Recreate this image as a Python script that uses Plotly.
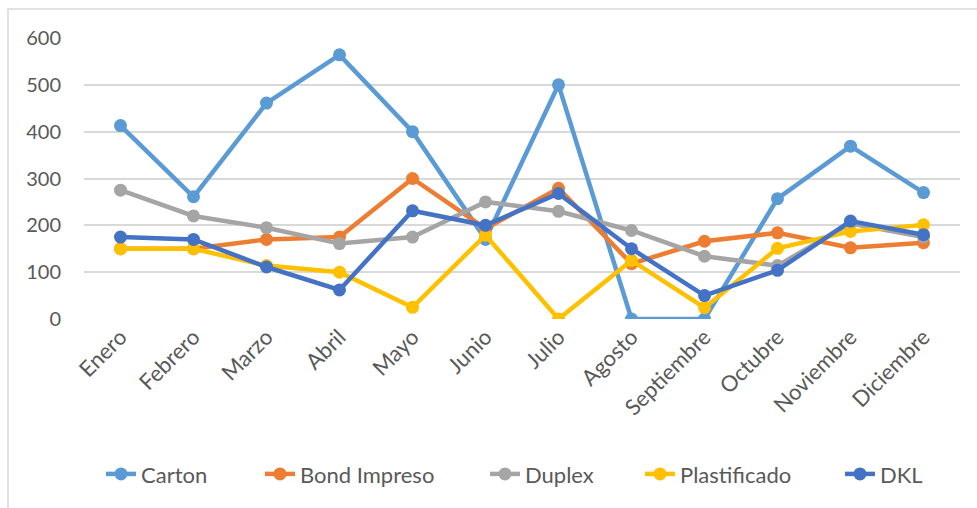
import plotly.graph_objects as go

months = ["Enero", "Febrero", "Marzo", "Abril", "Mayo", "Junio", "Julio",
          "Agosto", "Septiembre", "Octubre", "Noviembre", "Diciembre"]

carton = [413, 261, 461, 564, 400, 170, 500, 0, 0, 257, 369, 270]
bond_impreso = [150, 150, 170, 175, 300, 193, 279, 118, 166, 184, 152, 163]
duplex = [275, 220, 195, 161, 175, 250, 230, 189, 134, 114, 204, 175]
plastificado = [150, 150, 114, 100, 25, 179, 0, 125, 24, 151, 187, 201]
dkl = [175, 170, 111, 62, 231, 200, 268, 150, 50, 104, 209, 180]

series = [
    ("Carton", carton, "#5B9BD5"),
    ("Bond Impreso", bond_impreso, "#ED7D31"),
    ("Duplex", duplex, "#A5A5A5"),
    ("Plastificado", plastificado, "#FFC000"),
    ("DKL", dkl, "#4472C4"),
]

# pixel position of each legend item's text start in the reference
legend_text_px = [146, 305, 530, 685, 885]
PLOT_L, PLOT_W = 84, 876

fig = go.Figure()
legend_layout = {}
for i, ((name, vals, color), tx) in enumerate(zip(series, legend_text_px)):
    key = "legend" if i == 0 else f"legend{i + 1}"
    fig.add_trace(go.Scatter(
        x=months, y=vals, name=name, mode="lines+markers",
        line=dict(color=color, width=4.5),
        marker=dict(color=color, size=13),
        legend=key,
    ))
    legend_layout[key] = dict(
        x=(tx - 45 - PLOT_L) / PLOT_W, xanchor="left",
        y=-0.552, yanchor="middle", orientation="h",
        bgcolor="rgba(0,0,0,0)",
        font=dict(size=22, color="#595959"),
    )

font_family = "Lato, 'Open Sans', sans-serif"
fig.update_layout(
    width=977, height=508,
    margin=dict(l=84, r=17, t=38, b=189),
    paper_bgcolor="white", plot_bgcolor="white",
    font=dict(family=font_family, size=22, color="#595959"),
    showlegend=True,
    xaxis=dict(showgrid=False, showline=False, ticks="", tickangle=-45,
               tickfont=dict(size=22, color="#595959"), range=[-0.5, 11.5]),
    yaxis=dict(range=[0, 600], dtick=100, showgrid=True, gridcolor="#D9D9D9",
               gridwidth=1.5, zeroline=False, showline=False, ticks="",
               tickfont=dict(size=20, color="#595959"), ticklabelstandoff=22),
    shapes=[dict(type="rect", xref="paper", yref="paper",
                 x0=(8 - 84) / 876, x1=1.2, y0=-1.0, y1=(319 - 9) / 281,
                 line=dict(color="#D9D9D9", width=1.5), fillcolor="rgba(0,0,0,0)")],
    **legend_layout,
)

fig.write_html("out.html")
